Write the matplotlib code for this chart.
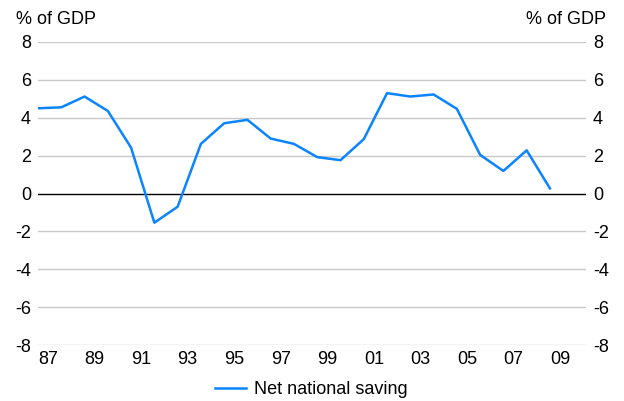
import matplotlib
matplotlib.use("Agg")
import matplotlib.pyplot as plt

plt.rcParams['font.family'] = ['Liberation Sans', 'DejaVu Sans']

years = list(range(1987, 2010))
saving = [4.5, 4.55, 5.12, 4.36, 2.42, -1.54, -0.70, 2.62, 3.71, 3.89, 2.90,
          2.62, 1.92, 1.76, 2.87, 5.30, 5.12, 5.23, 4.47, 2.04, 1.19, 2.28, 0.27]
tick_years = list(range(1987, 2010, 2))
tick_labels = [f"{y % 100:02d}" for y in tick_years]
y_ticks = [-8, -6, -4, -2, 0, 2, 4, 6, 8]

blue = '#0A84FF'
fs = 13

fig = plt.figure(figsize=(6.24, 4.01), dpi=100)
ax = fig.add_axes([38 / 624, 1 - 345 / 401, (586 - 38) / 624, (345 - 42) / 401])

# gridlines, zero line in black
for yv in y_ticks:
    if yv == 0:
        ax.axhline(yv, color='black', lw=1.0, zorder=2)
    else:
        ax.axhline(yv, color='#c8c8c8', lw=1.0, zorder=1)

line, = ax.plot(years, saving, color=blue, lw=1.8, zorder=3, label='Net national saving')

ax.set_xlim(1987, 2010.55)
ax.set_ylim(-8, 8)
for s in ax.spines.values():
    s.set_visible(False)

ax.set_xticks(tick_years)
ax.set_xticklabels(tick_labels, ha='left', fontsize=fs)
ax.set_yticks(y_ticks)
ax.set_yticklabels([str(v) for v in y_ticks], fontsize=fs)
ax.tick_params(axis='both', length=0, pad=4)
ax.tick_params(axis='y', labelright=True, pad=5)

fig.text(16 / 624, 1 - 20 / 401, '% of GDP', fontsize=fs, va='center', ha='left')
fig.text(606 / 624, 1 - 20 / 401, '% of GDP', fontsize=fs, va='center', ha='right')

fig.legend(handles=[line], loc='center', bbox_to_anchor=(311 / 624, 1 - 390 / 401),
           frameon=False, fontsize=fs, handlelength=1.75, handletextpad=0.4)

fig.savefig('out.png', dpi=100)
